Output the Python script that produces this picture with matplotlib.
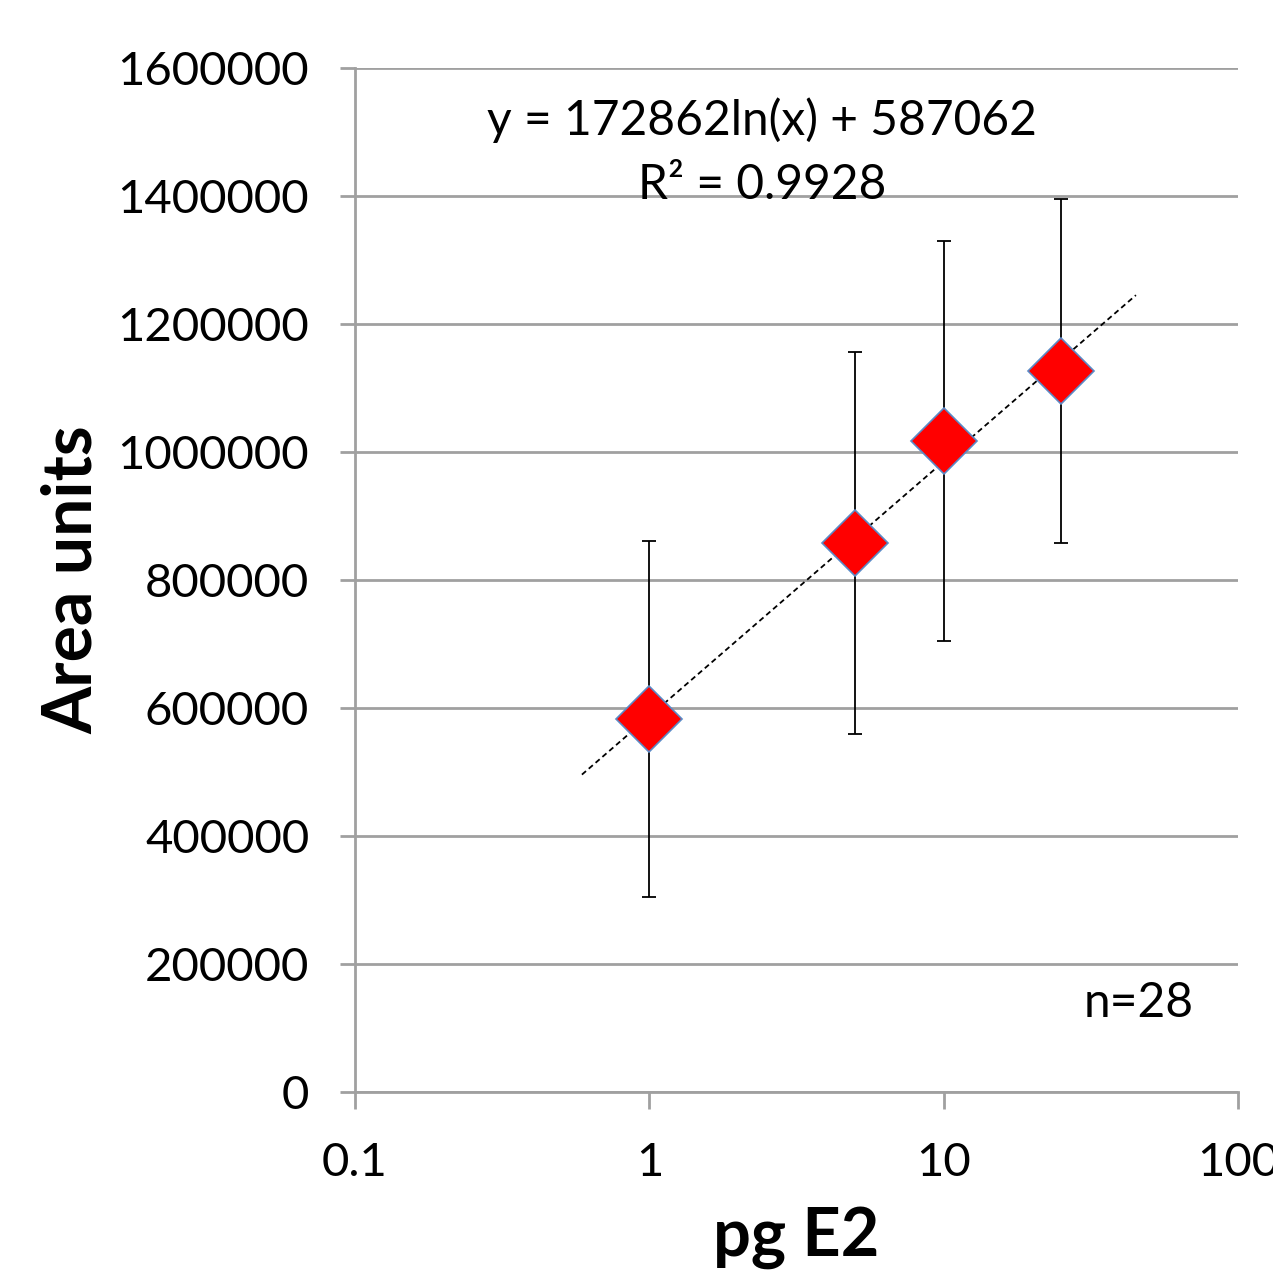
import numpy as np
import matplotlib
matplotlib.use("Agg")
import matplotlib.pyplot as plt

# measured values
dose_pg = [1, 5, 10, 25]
area_mean = [583000, 858000, 1017000, 1127000]
area_err = [278000, 298000, 313000, 269000]

# log trendline as reported on the chart
fit_a = 172862
fit_b = 587062
fit_r2 = 0.9928
fit_range = [0.59, 45]

y_ticks = [0, 200000, 400000, 600000, 800000, 1000000, 1200000, 1400000, 1600000]
x_ticks = [0.1, 1, 10, 100]
x_tick_labels = ["0.1", "1", "10", "100"]

plt.rcParams['font.family'] = ['Lato', 'DejaVu Sans']

fig = plt.figure(figsize=(12.73, 12.86), dpi=100)
ax = fig.add_axes([0.2789, 0.1509, 0.9725 - 0.2789, 0.9471 - 0.1509])

grey = "#a0a0a0"

ax.set_xscale("log")
ax.set_xlim(0.1, 100)
ax.set_ylim(0, 1600000)
ax.set_yticks(y_ticks)
ax.set_yticklabels([str(v) for v in y_ticks])
ax.set_xticks(x_ticks)
ax.set_xticklabels(x_tick_labels)
ax.minorticks_off()

ax.yaxis.grid(True, color=grey, linewidth=2)
ax.set_axisbelow(True)
for side in ["top", "right"]:
    ax.spines[side].set_visible(False)
for side in ["left", "bottom"]:
    ax.spines[side].set_color(grey)
    ax.spines[side].set_linewidth(2)

ax.tick_params(axis="y", length=11, width=2, color=grey, pad=22, labelsize=34)
ax.tick_params(axis="x", length=12, width=2, color=grey, pad=24, labelsize=34)

# trendline
xt = np.logspace(np.log10(fit_range[0]), np.log10(fit_range[1]), 100)
ax.plot(xt, fit_a * np.log(xt) + fit_b, color="black", linestyle=(0, (3, 2)),
        linewidth=1.3, zorder=4)

ax.errorbar(dose_pg, area_mean, yerr=area_err, fmt="none", ecolor="black",
            elinewidth=1.3, capsize=5, capthick=1.3, zorder=3)
ax.plot(dose_pg, area_mean, linestyle="none", marker="D", markersize=33.5,
        markerfacecolor="#ff0000", markeredgecolor="#5b8ac6",
        markeredgewidth=1.2, zorder=5)

ax.text(0.461, 0.949, "y = %dln(x) + %d" % (fit_a, fit_b),
        transform=ax.transAxes, ha="center", va="center", fontsize=34.5)
ax.text(0.461, 0.886, "R² = %.4f" % fit_r2,
        transform=ax.transAxes, ha="center", va="center", fontsize=34.5)
ax.text(0.887, 0.087, "n=28", transform=ax.transAxes,
        ha="center", va="center", fontsize=34.5)

ax.set_xlabel("pg E2", fontsize=48, fontweight="bold", labelpad=16)
ax.set_ylabel("Area units", fontsize=49, fontweight="bold", labelpad=10)

fig.savefig("out.png", dpi=100)
